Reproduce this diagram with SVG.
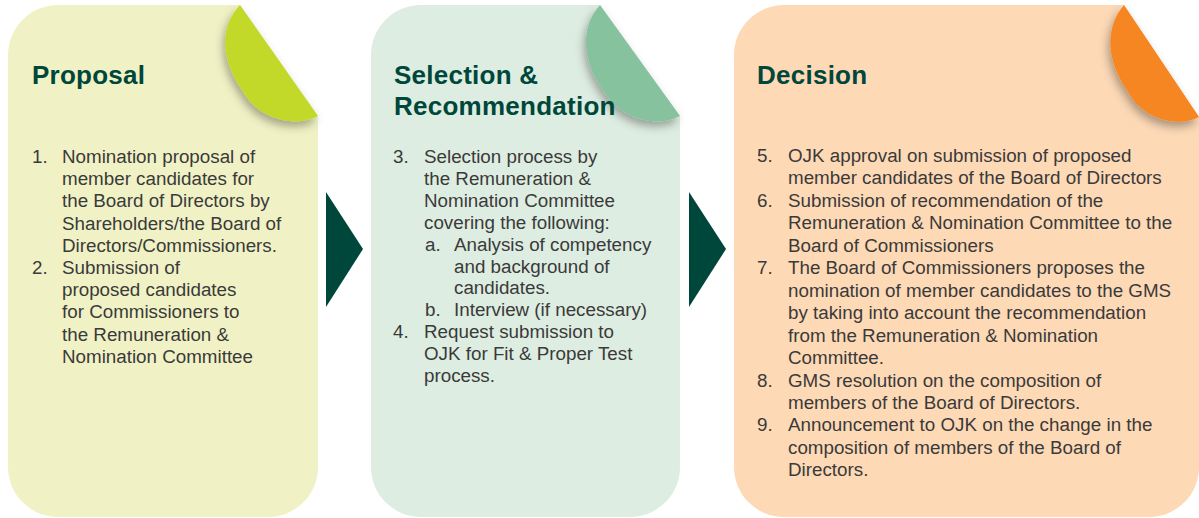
<svg xmlns="http://www.w3.org/2000/svg" width="1199" height="518" viewBox="0 0 1199 518">
<defs>
<filter id="sh" x="-40%" y="-40%" width="180%" height="180%">
<feDropShadow dx="-2" dy="5" stdDeviation="5" flood-color="#000" flood-opacity="0.33"/>
</filter>
</defs>
<style>
.title{font-family:"Liberation Sans",Arial,sans-serif;font-weight:bold;font-size:26px;letter-spacing:0.25px;fill:#00473b}
.t{font-family:"Liberation Sans",Arial,sans-serif;font-size:18.8px;fill:#3a3a3a}
.arrow{fill:#00473b}
</style>
<rect width="1199" height="518" fill="#fff"/>
<g id="proposal">
<path d="M58,5 H240 L318,116 V467 A50,50 0 0 1 268,517 H58 A50,50 0 0 1 8,467 V55 A50,50 0 0 1 58,5 Z" fill="#f0f2c5"/>
<path d="M240,5 L318,116 C296,128 258,120 242,90 C222,62 218,28 240,5 Z" fill="#c2d92b" filter="url(#sh)"/>
<text class="title" x="32" y="84">Proposal</text>
<text class="t">
<tspan x="32" y="163">1.</tspan><tspan x="62" y="163">Nomination proposal of</tspan>
<tspan x="62" y="185.2">member candidates for</tspan>
<tspan x="62" y="207.4">the Board of Directors by</tspan>
<tspan x="62" y="229.6">Shareholders/the Board of</tspan>
<tspan x="62" y="251.8">Directors/Commissioners.</tspan>
<tspan x="32" y="274">2.</tspan><tspan x="62" y="274">Submission of</tspan>
<tspan x="62" y="296.2">proposed candidates</tspan>
<tspan x="62" y="318.4">for Commissioners to</tspan>
<tspan x="62" y="340.6">the Remuneration &amp;</tspan>
<tspan x="62" y="362.8">Nomination Committee</tspan>
</text>
</g>
<g id="selection">
<path d="M421,5 H600 L680,116 V467 A50,50 0 0 1 630,517 H421 A50,50 0 0 1 371,467 V55 A50,50 0 0 1 421,5 Z" fill="#deede1"/>
<path d="M600,5 L680,116 C658,128 620,120 603,90 C583,62 579,28 600,5 Z" fill="#87c29f" filter="url(#sh)"/>
<text class="title" x="394" y="84">Selection &amp;</text>
<text class="title" x="394" y="115">Recommendation</text>
<text class="t">
<tspan x="393" y="163">3.</tspan><tspan x="424" y="163">Selection process by</tspan>
<tspan x="424" y="184.9">the Remuneration &amp;</tspan>
<tspan x="424" y="206.8">Nomination Committee</tspan>
<tspan x="424" y="228.7">covering the following:</tspan>
<tspan x="425" y="250.6">a.</tspan><tspan x="454" y="250.6">Analysis of competency</tspan>
<tspan x="454" y="272.5">and background of</tspan>
<tspan x="454" y="294.4">candidates.</tspan>
<tspan x="425" y="316.3">b.</tspan><tspan x="454" y="316.3">Interview (if necessary)</tspan>
<tspan x="393" y="338.2">4.</tspan><tspan x="424" y="338.2">Request submission to</tspan>
<tspan x="424" y="360.1">OJK for Fit &amp; Proper Test</tspan>
<tspan x="424" y="382">process.</tspan>
</text>
</g>
<g id="decision">
<path d="M784,5 H1124 L1199,117 V467 A50,50 0 0 1 1149,517 H784 A50,50 0 0 1 734,467 V55 A50,50 0 0 1 784,5 Z" fill="#fdd9b6"/>
<path d="M1124,5 L1199,117 C1178,128 1142,120 1127,90 C1107,62 1104,28 1124,5 Z" fill="#f68621" filter="url(#sh)"/>
<text class="title" x="757" y="84">Decision</text>
<text class="t">
<tspan x="757" y="162">5.</tspan><tspan x="788" y="162">OJK approval on submission of proposed</tspan>
<tspan x="788" y="184.45">member candidates of the Board of Directors</tspan>
<tspan x="757" y="206.9">6.</tspan><tspan x="788" y="206.9">Submission of recommendation of the</tspan>
<tspan x="788" y="229.35">Remuneration &amp; Nomination Committee to the</tspan>
<tspan x="788" y="251.8">Board of Commissioners</tspan>
<tspan x="757" y="274.25">7.</tspan><tspan x="788" y="274.25">The Board of Commissioners proposes the</tspan>
<tspan x="788" y="296.7">nomination of member candidates to the GMS</tspan>
<tspan x="788" y="319.15">by taking into account the recommendation</tspan>
<tspan x="788" y="341.6">from the Remuneration &amp; Nomination</tspan>
<tspan x="788" y="364.05">Committee.</tspan>
<tspan x="757" y="386.5">8.</tspan><tspan x="788" y="386.5">GMS resolution on the composition of</tspan>
<tspan x="788" y="408.95">members of the Board of Directors.</tspan>
<tspan x="757" y="431.4">9.</tspan><tspan x="788" y="431.4">Announcement to OJK on the change in the</tspan>
<tspan x="788" y="453.85">composition of members of the Board of</tspan>
<tspan x="788" y="476.3">Directors.</tspan>
</text>
</g>
<g id="connectors">
<polygon class="arrow" points="326,192 363,249 326,307"/>
<polygon class="arrow" points="689,192 726,249 689,307"/>
</g>
</svg>
